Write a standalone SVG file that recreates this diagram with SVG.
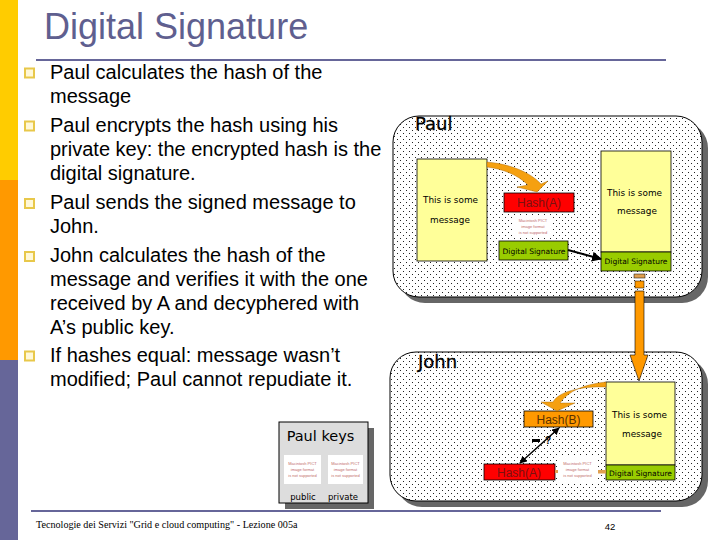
<svg xmlns="http://www.w3.org/2000/svg" width="720" height="540" viewBox="0 0 720 540">
<style>
.b{font:20px "Liberation Sans",Arial,sans-serif;fill:#000}
.n{font:18px "DejaVu Sans",sans-serif;fill:#000;stroke:#000;stroke-width:.3}
.h{font:12px "Liberation Sans",sans-serif;text-anchor:middle}
.m{font:8.900px "DejaVu Sans",sans-serif;fill:#000}
.s{font:7.500px "DejaVu Sans",sans-serif;fill:#000;text-anchor:middle}
.box{stroke:#000;stroke-width:.8}
.y{fill:#ffff99}.g{fill:#99cc00}.r{fill:#ff0000}.o{fill:#ff9900}
.pt{font:4px "Liberation Sans",sans-serif;fill:#c26a6a;text-anchor:middle}
.bl{fill:#fff8d8;stroke:#e8c84a;stroke-width:2}
.c{fill:#f5a010;stroke:#a06000;stroke-width:.4}
</style>
<defs>
<pattern id="dots" width="6" height="6" patternUnits="userSpaceOnUse"><rect width="6" height="6" fill="#fff"/><rect x="1" y="1" width="1" height="1" fill="#222"/><rect x="4" y="4" width="1" height="1" fill="#222"/></pattern>
<marker id="ah" viewBox="0 0 10 10" refX="9" refY="5" markerWidth="5" markerHeight="5" orient="auto-start-reverse"><path d="M0 0L10 5L0 10z" fill="#000"/></marker>
</defs>
<rect width="720" height="540" fill="#fff"/>
<rect x="0" y="0" width="18" height="180" fill="#ffcc00"/>
<rect x="0" y="180" width="18" height="180" fill="#ff9900"/>
<rect x="0" y="360" width="18" height="180" fill="#666699"/>
<text x="44" y="39" font-family="Liberation Sans,sans-serif" font-size="36" fill="#5f5f8f">Digital Signature</text>
<rect x="36" y="59" width="630" height="2" fill="#666699"/>
<rect x="31" y="510" width="630" height="2" fill="#666699"/>
<g id="bullets"><rect class="bl" x="25" y="68.500" width="9" height="9"/><rect class="bl" x="25" y="121.500" width="9" height="9"/><rect class="bl" x="25" y="199" width="9" height="9"/><rect class="bl" x="25" y="252" width="9" height="9"/><rect class="bl" x="25" y="351.500" width="9" height="9"/></g>
<g id="text">
<text class="b" x="50" y="79">Paul calculates the hash of the</text>
<text class="b" x="50" y="103">message</text>
<text class="b" x="50" y="132">Paul encrypts the hash using his</text>
<text class="b" x="50" y="156">private key: the encrypted hash is the</text>
<text class="b" x="50" y="180">digital signature.</text>
<text class="b" x="50" y="209">Paul sends the signed message to</text>
<text class="b" x="50" y="233">John.</text>
<text class="b" x="50" y="262">John calculates the hash of the</text>
<text class="b" x="50" y="286">message and verifies it with the one</text>
<text class="b" x="50" y="310">received by A and decyphered with</text>
<text class="b" x="50" y="334">A’s public key.</text>
<text class="b" x="50" y="362">If hashes equal: message wasn’t</text>
<text class="b" x="50" y="386">modified; Paul cannot repudiate it.</text>
</g>
<g id="paul-box"><rect x="399" y="122" width="309" height="181" rx="26" fill="#666"/><rect x="393" y="116" width="309" height="181" rx="26" fill="url(#dots)" stroke="#000"/><text x="415" y="130" class="n">Paul</text></g>
<g id="john-box"><rect x="396" y="358" width="312" height="149" rx="26" fill="#666"/><rect x="390" y="352" width="312" height="149" rx="26" fill="url(#dots)" stroke="#000"/><text x="418" y="368" class="n">John</text></g>
<g id="msg1"><rect class="box y" x="417" y="159" width="70" height="102"/><text class="m" x="423" y="203">This is some</text><text class="m" x="430" y="223">message</text></g>
<g id="hash-a"><rect class="box r" x="504" y="193" width="70" height="19"/><text class="h" x="539" y="207" fill="#7a1010">Hash(A)</text></g>
<g id="pict1"><rect x="513" y="217" width="40" height="20" fill="#fff"/><text class="pt" x="533" y="222">Macintosh PICT</text><text class="pt" x="533" y="228">image format</text><text class="pt" x="533" y="234">is not supported</text></g>
<g id="sig1"><rect class="box g" x="499" y="241" width="69" height="19"/><text class="s" x="534" y="254">Digital Signature</text></g>
<g id="msg2"><rect class="box y" x="601" y="151" width="70" height="101"/><text class="m" x="607" y="196">This is some</text><text class="m" x="617" y="214">message</text><rect class="box g" x="601" y="252" width="70" height="19"/><text class="s" x="636" y="264">Digital Signature</text></g>
<g id="hash-b"><rect class="box o" x="524" y="411" width="69" height="16"/><text class="h" x="558.500" y="424" fill="#5a3000">Hash(B)</text></g>
<g id="hash-a2"><rect class="box r" x="484" y="464" width="71" height="16"/><text class="h" x="519" y="477" fill="#7a1010">Hash(A)</text></g>
<g id="pict2"><rect x="557" y="457" width="41" height="26" fill="#fff"/><text class="pt" x="577.500" y="465">Macintosh PICT</text><text class="pt" x="577.500" y="471">image format</text><text class="pt" x="577.500" y="477">is not supported</text></g>
<g id="msg3"><rect class="box y" x="606" y="382" width="69" height="83"/><text class="m" x="612" y="418">This is some</text><text class="m" x="622" y="437">message</text><rect class="box g" x="606" y="465" width="69" height="15"/><text class="s" x="640.500" y="476">Digital Signature</text></g>
<g id="connectors">
<path class="c" d="M487 162C510 164 530 172 541 184L548 181L537 192L517 187L528 185C518 175 503 169 487 167z"/>
<path class="c" d="M606 382C585 384 568 391 560 403L575 403L557 411L541 402L553 402C558 392 580 386 606 387z"/>
<line x1="568" y1="250" x2="601" y2="259" stroke="#000" stroke-width="2" marker-end="url(#ah)"/>
<line x1="520" y1="463" x2="559" y2="428" stroke="#000" stroke-width="1.500" marker-start="url(#ah)" marker-end="url(#ah)"/>
<rect x="532" y="439" width="8" height="3" fill="#000"/>
<text x="545" y="444" font-family="Liberation Sans,sans-serif" font-size="10" font-weight="bold" fill="#000">?</text>
<rect x="555" y="470" width="3" height="3" fill="#e0a050"/><rect x="598" y="470" width="8" height="3.500" fill="#e0a050"/>
<rect x="634" y="274" width="11" height="4" fill="#e0a050" stroke="#000" stroke-width=".5"/>
<rect x="635" y="281" width="9" height="7" fill="#ff9900" stroke="#000" stroke-width=".5"/>
<path d="M635 291H644V355H648L639 381L630 355H635z" fill="#ff9900" stroke="#000" stroke-width=".6"/>
</g>
<g id="paul-keys"><rect x="285" y="428" width="89" height="81" fill="#666"/><rect x="279" y="422" width="89" height="81" fill="#ddd" stroke="#000"/><text x="320.500" y="441" font-family="DejaVu Sans,sans-serif" font-size="14.500" text-anchor="middle" fill="#000">Paul keys</text>
<rect x="284" y="455" width="37" height="29" fill="#fff"/><text class="pt" x="302.500" y="465">Macintosh PICT</text><text class="pt" x="302.500" y="471">image format</text><text class="pt" x="302.500" y="477">is not supported</text>
<rect x="328" y="455" width="35" height="29" fill="#fff"/><text class="pt" x="345.500" y="465">Macintosh PICT</text><text class="pt" x="345.500" y="471">image format</text><text class="pt" x="345.500" y="477">is not supported</text>
<text class="m" x="303" y="500" text-anchor="middle" style="font-size:8.500px">public</text><text class="m" x="343" y="500" text-anchor="middle" style="font-size:8.500px">private</text></g>
<text x="36" y="528" font-family="Liberation Serif,serif" font-size="10.150" fill="#000">Tecnologie dei Servizi "Grid e cloud computing" - Lezione 005a</text>
<text x="610" y="530" font-family="Liberation Sans,sans-serif" font-size="9.500" text-anchor="middle" fill="#000">42</text>
</svg>
